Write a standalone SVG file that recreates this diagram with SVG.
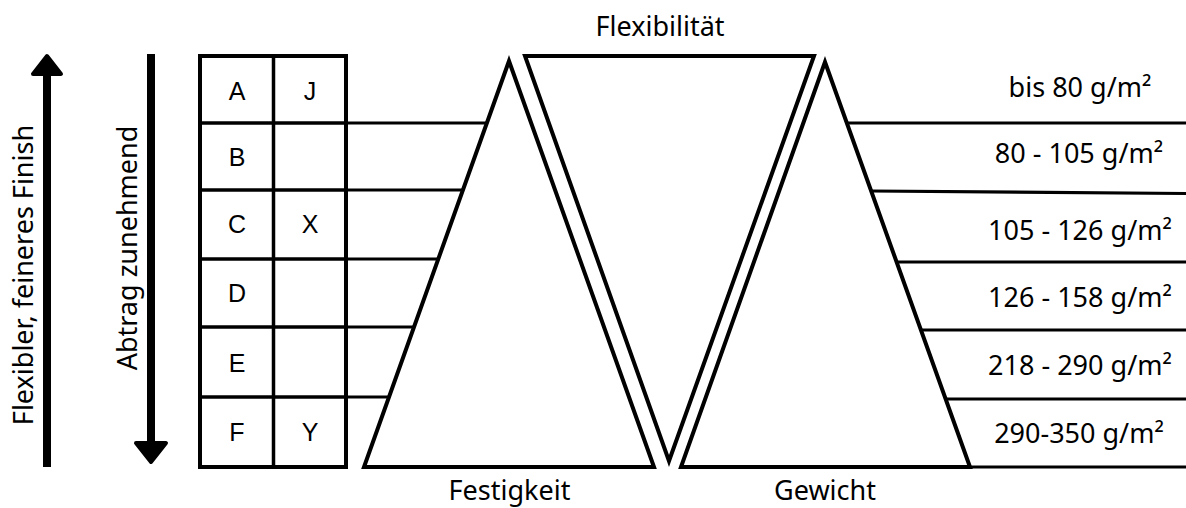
<svg xmlns="http://www.w3.org/2000/svg" width="1186" height="508" viewBox="0 0 1186 508">
<style>
.lbl{font-family:"Noto Sans","Open Sans",sans-serif;font-size:27px;fill:#000}
.cell{font-family:"Liberation Sans",Arial,sans-serif;font-size:25px;fill:#000;text-anchor:middle}
.tri{fill:#fff;stroke:#000;stroke-width:4;stroke-linejoin:miter}
.grid{stroke:#000;stroke-width:3.5;fill:none}
.conn{stroke:#000;stroke-width:3.2;fill:none}
</style>
<rect width="1186" height="508" fill="#fff"/>
<g id="arrow-flexibler">
<line x1="47" y1="70" x2="47" y2="467" stroke="#000" stroke-width="8"/>
<polygon points="33,74 47,56 61,74" fill="#000" stroke="#000" stroke-width="4" stroke-linejoin="round"/>
<text class="lbl" text-anchor="middle" transform="translate(33,275) rotate(-90)">Flexibler, feineres Finish</text>
</g>
<g id="arrow-abtrag">
<line x1="151" y1="54" x2="151" y2="446" stroke="#000" stroke-width="8"/>
<polygon points="136,443 151,462 166,443" fill="#000" stroke="#000" stroke-width="4" stroke-linejoin="round"/>
<text class="lbl" text-anchor="middle" transform="translate(137,248) rotate(-90)">Abtrag zunehmend</text>
</g>
<g id="table">
<rect x="200" y="56" width="146" height="411" fill="#fff" stroke="#000" stroke-width="4"/>
<line class="grid" x1="273.5" y1="56" x2="273.5" y2="467"/>
<line class="grid" x1="200" y1="123" x2="346" y2="123"/>
<line class="grid" x1="200" y1="190" x2="346" y2="190"/>
<line class="grid" x1="200" y1="259" x2="346" y2="259"/>
<line class="grid" x1="200" y1="327" x2="346" y2="327"/>
<line class="grid" x1="200" y1="397" x2="346" y2="397"/>
<text class="cell" x="237" y="100">A</text>
<text class="cell" x="310" y="100">J</text>
<text class="cell" x="237" y="166">B</text>
<text class="cell" x="237" y="233">C</text>
<text class="cell" x="310" y="233">X</text>
<text class="cell" x="237" y="302">D</text>
<text class="cell" x="237" y="372">E</text>
<text class="cell" x="237" y="441">F</text>
<text class="cell" x="310" y="441">Y</text>
</g>
<g id="connectors">
<line class="conn" x1="346" y1="123" x2="487" y2="123"/>
<line class="conn" x1="346" y1="190" x2="463" y2="190"/>
<line class="conn" x1="346" y1="259" x2="438" y2="259"/>
<line class="conn" x1="346" y1="327" x2="414" y2="327"/>
<line class="conn" x1="346" y1="397" x2="389" y2="397"/>
<line class="conn" x1="847" y1="123" x2="1186" y2="123"/>
<line class="conn" x1="871" y1="191" x2="1186" y2="193.5"/>
<line class="conn" x1="897" y1="262" x2="1186" y2="262"/>
<line class="conn" x1="921" y1="330" x2="1186" y2="330"/>
<line class="conn" x1="946" y1="399" x2="1186" y2="399"/>
<line class="conn" x1="968" y1="467" x2="1186" y2="467" stroke-width="4"/>
</g>
<g id="festigkeit">
<polygon class="tri" points="509,61 364,467 654,467"/>
<text class="lbl" x="509.5" y="500" text-anchor="middle">Festigkeit</text>
</g>
<g id="flexibilitaet">
<polygon class="tri" points="525,56 814,56 669,461"/>
<text class="lbl" x="660" y="36" text-anchor="middle">Flexibilität</text>
</g>
<g id="gewicht">
<polygon class="tri" points="825,62 681,467 970,467"/>
<text class="lbl" x="825" y="500" text-anchor="middle">Gewicht</text>
</g>
<g id="gewichtsklassen">
<text class="lbl" x="1080" y="97" text-anchor="middle">bis 80 g/m²</text>
<text class="lbl" x="1079" y="163" text-anchor="middle">80 - 105 g/m²</text>
<text class="lbl" x="1080" y="240" text-anchor="middle">105 - 126 g/m²</text>
<text class="lbl" x="1080" y="307" text-anchor="middle">126 - 158 g/m²</text>
<text class="lbl" x="1080" y="375" text-anchor="middle">218 - 290 g/m²</text>
<text class="lbl" x="1079" y="443" text-anchor="middle">290-350 g/m²</text>
</g>
</svg>
